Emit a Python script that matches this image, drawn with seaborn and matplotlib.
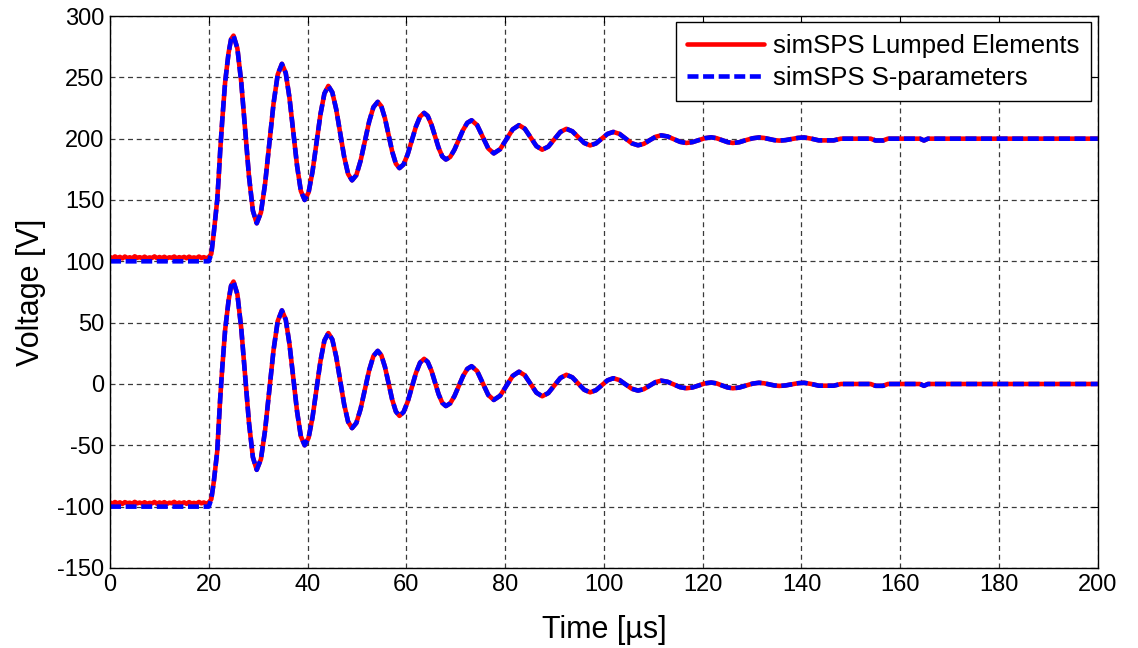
import numpy as np
import pandas as pd
import matplotlib
matplotlib.use("Agg")
import matplotlib.pyplot as plt
import seaborn as sns

# ---------------- data ----------------
labels = ["simSPS Lumped Elements", "simSPS S-parameters"]

# flat part before the step (0..20 us)
flat_t = np.linspace(0, 20, 41)
red_flat_upper = [103.5, 102.5, 104.0, 102.8, 103.6, 102.4, 103.9, 102.7, 103.3, 102.5,
                  104.1, 102.9, 103.4, 102.6, 103.8, 102.5, 103.2, 102.8, 104.0, 102.6,
                  103.5, 102.7, 103.7, 102.4, 103.3, 102.9, 103.9, 102.5, 103.4, 102.8,
                  103.6, 102.5, 103.8, 102.7, 103.2, 102.6, 103.9, 102.8, 103.4, 102.5, 103.5]
red_flat_lower = [-96.6, -97.7, -96.2, -97.4, -96.5, -97.8, -96.3, -97.2, -96.8, -97.6,
                  -96.1, -97.3, -96.7, -97.5, -96.4, -97.7, -96.9, -97.3, -96.2, -97.6,
                  -96.6, -97.4, -96.3, -97.8, -96.8, -97.2, -96.1, -97.6, -96.7, -97.3,
                  -96.5, -97.7, -96.3, -97.4, -96.9, -97.5, -96.2, -97.3, -96.6, -97.7, -96.5]
blue_flat_t = [0.0, 20.0]
blue_flat_upper = [100.0, 100.0]
blue_flat_lower = [-100.0, -100.0]

# oscillation after the step (shared by both simulations)
osc_t = [20.5, 21.0, 21.7, 22.0, 22.3, 22.7, 23.3, 24.0, 24.5, 25.0,
         25.78, 26.57, 27.35, 28.13, 28.92, 29.7,
         30.55, 31.4, 32.25, 33.1, 33.95, 34.8,
         35.57, 36.33, 37.1, 37.87, 38.63, 39.4,
         40.2, 41.0, 41.8, 42.6, 43.4, 44.2,
         45.0, 45.8, 46.6, 47.4, 48.2, 49.0,
         49.87, 50.73, 51.6, 52.47, 53.33, 54.2,
         54.93, 55.67, 56.4, 57.13, 57.87, 58.6,
         59.43, 60.27, 61.1, 61.93, 62.77, 63.6,
         64.33, 65.07, 65.8, 66.53, 67.27, 68.0,
         68.87, 69.73, 70.6, 71.47, 72.33, 73.2,
         74.33, 75.45, 76.58, 77.7,
         78.98, 80.25, 81.53, 82.8,
         83.98, 85.15, 86.33, 87.5,
         88.73, 89.95, 91.18, 92.4,
         93.6, 94.8, 96.0, 97.2,
         98.38, 99.55, 100.73, 101.9,
         103.15, 104.4, 105.65, 106.9,
         108.08, 109.25, 110.43, 111.6,
         112.88, 114.15, 115.43, 116.7,
         117.95, 119.2, 120.45, 121.7,
         122.8, 123.9, 125.0, 126.1,
         127.4, 128.75, 130.1, 131.4,
         132.4, 133.45, 134.5, 135.5,
         136.75, 138.0, 139.25, 140.5,
         142.0, 143.5, 146.5, 148.0, 154.0, 155.0, 156.5, 157.5,
         164.0, 164.8, 165.6, 200.0]

osc_upper = [106, 123, 150, 169, 190, 214, 246, 270, 281, 284,
             273.7, 245.8, 207.5, 169.3, 141.3, 131,
             139.7, 163.5, 196, 228.5, 252.3, 261,
             253.6, 233.3, 205.5, 177.8, 157.4, 150,
             156.2, 173.3, 196.5, 219.8, 236.8, 243,
             237.8, 223.8, 204.5, 185.3, 171.2, 166,
             170.3, 182, 198, 214, 225.7, 230,
             226.4, 216.5, 203, 189.5, 179.6, 176,
             179, 187.3, 198.5, 209.8, 218, 221,
             218.5, 211.5, 202, 192.5, 185.5, 183,
             185.1, 191, 199, 207, 212.9, 215,
             211.0, 201.5, 192.0, 188,
             191.4, 199.5, 207.6, 211,
             208.1, 201, 193.9, 191,
             193.5, 199.5, 205.5, 208,
             206.0, 201.3, 196.5, 194.5,
             196.1, 200, 203.9, 205.5,
             203.9, 200, 196.2, 194.6,
             195.8, 198.7, 201.5, 202.7,
             201.8, 199.6, 197.4, 196.5,
             197.2, 198.8, 200.4, 201.1,
             200.4, 198.8, 197.2, 196.5,
             197.1, 198.8, 200.3, 201,
             200.6, 199.7, 198.8, 198.4,
             198.8, 199.7, 200.6, 201,
             200, 198.6, 198.6, 200, 200, 198.5, 198.5, 200,
             200, 198.5, 200, 200]

osc_lower = [-94, -80, -55, -33, -12, 12, 44, 68, 80, 83.5,
             73.2, 45.1, 6.8, -31.6, -59.7, -70,
             -61.3, -37.5, -5, 27.5, 51.3, 60,
             52.6, 32.5, 5, -22.5, -42.6, -50,
             -43.9, -27.1, -4.3, 18.6, 35.4, 41.5,
             36.3, 22.1, 2.8, -16.6, -30.8, -36,
             -31.8, -20.3, -4.5, 11.3, 22.8, 27,
             23.4, 13.8, 0.5, -12.8, -22.4, -26,
             -22.9, -14.4, -2.8, 8.9, 17.4, 20.5,
             17.9, 10.9, 1.3, -8.4, -15.4, -18,
             -15.8, -9.9, -1.8, 6.4, 12.3, 14.5,
             10.5, 0.8, -9.0, -13,
             -9.6, -1.5, 6.6, 10,
             7.1, 0, -7.1, -10,
             -7.4, -1.3, 4.9, 7.5,
             5.4, 0.4, -4.7, -6.8,
             -5.1, -1.1, 3.0, 4.7,
             3.2, -0.4, -3.9, -5.4,
             -4.2, -1.4, 1.5, 2.7,
             1.8, -0.4, -2.6, -3.5,
             -2.8, -1.2, 0.5, 1.2,
             0.5, -1.2, -2.8, -3.5,
             -2.9, -1.3, 0.3, 1.0,
             0.6, -0.3, -1.2, -1.6,
             -1.2, -0.3, 0.6, 1.0,
             0, -1.4, -1.4, 0, 0, -1.5, -1.5, 0,
             0, -1.5, 0, 0]

x_ticks = list(range(0, 201, 20))
y_ticks = list(range(-150, 301, 50))

# ---------------- build long table ----------------
def trace(t, v, series, name):
    return pd.DataFrame({"time": t, "voltage": v, "series": series, "trace": name})

frames = [
    trace(list(flat_t) + osc_t, red_flat_upper + osc_upper, labels[0], "red_up"),
    trace(list(flat_t) + osc_t, red_flat_lower + osc_lower, labels[0], "red_lo"),
    trace(blue_flat_t + osc_t, blue_flat_upper + osc_upper, labels[1], "blue_up"),
    trace(blue_flat_t + osc_t, blue_flat_lower + osc_lower, labels[1], "blue_lo"),
]
df = pd.concat(frames, ignore_index=True)

# ---------------- plot ----------------
sns.set_style("white")
plt.rcParams["font.family"] = ["Liberation Sans", "DejaVu Sans"]
plt.rcParams["axes.unicode_minus"] = False
plt.rcParams["text.color"] = "black"
plt.rcParams["axes.labelcolor"] = "black"

fig = plt.figure(figsize=(11.38, 6.48), dpi=100)
ax = fig.add_axes([0.0967, 0.1235, 0.868, 0.8518])

LW = 3.3
palette = {labels[0]: "#ff0000", labels[1]: "#0000ff"}
dashes = {labels[0]: "", labels[1]: (2.4, 1.0)}

sns.lineplot(data=df, x="time", y="voltage", hue="series", style="series",
             units="trace", estimator=None, sort=False,
             hue_order=labels, style_order=labels,
             palette=palette, dashes=dashes, linewidth=LW, ax=ax, legend=True)

ax.set_xlim(0, 200)
ax.set_ylim(-150, 300)
ax.set_xticks(x_ticks)
ax.set_yticks(y_ticks)
ax.tick_params(direction="in", length=5, width=0.8, top=True, right=True,
               labelsize=17, colors="black", pad=4)
ax.grid(True, color="#3a3a3a", linestyle=(0, (4, 3)), linewidth=0.9)
ax.set_axisbelow(True)
for s in ax.spines.values():
    s.set_color("black")
    s.set_linewidth(1.0)

ax.set_xlabel("Time [µs]", fontsize=22, labelpad=14, color="black")
ax.set_ylabel("Voltage [V]", fontsize=22, labelpad=8, color="black")

handles, labs = ax.get_legend_handles_labels()
leg = ax.legend(handles[-2:], labs[-2:], loc="upper right", fontsize=18.5,
                frameon=True, fancybox=False, shadow=False, framealpha=1,
                edgecolor="black", handlelength=3.0, handletextpad=0.35,
                borderaxespad=0.25, borderpad=0.45, labelspacing=0.3)
leg.get_frame().set_linewidth(1.0)
for t in leg.get_texts():
    t.set_color("black")
for h in leg.get_lines():
    h.set_linewidth(LW)

fig.savefig("out.png", dpi=100)
